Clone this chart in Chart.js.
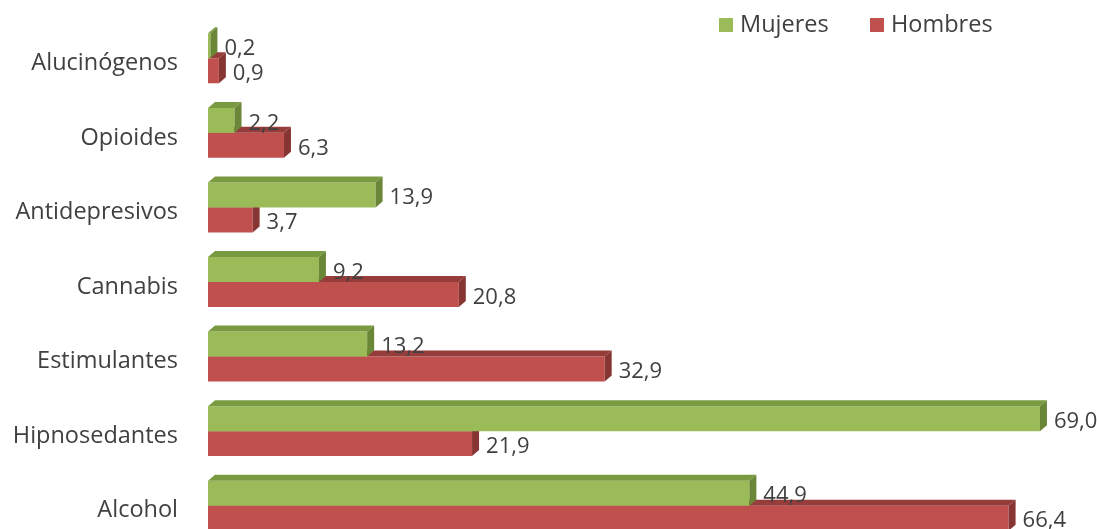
<!DOCTYPE html>
<html lang="es">
<head>
<meta charset="UTF-8">
<title>Mujeres y Hombres por sustancia</title>
<style>
  html, body { margin: 0; padding: 0; background: #fff; overflow: hidden; }
  #wrap { position: relative; width: 1099px; height: 544px; }
</style>
</head>
<body>
<div id="wrap"><canvas id="drugChart"></canvas></div>

<script src="https://cdn.jsdelivr.net/npm/chart.js"></script>
<script>
const categorias = ['Alucinógenos', 'Opioides', 'Antidepresivos', 'Cannabis', 'Estimulantes', 'Hipnosedantes', 'Alcohol'];
const mujeres = [0.2, 2.2, 13.9, 9.2, 13.2, 69.0, 44.9];
const hombres = [0.9, 6.3, 3.7, 20.8, 32.9, 21.9, 66.4];

const FONT = '"Open Sans", sans-serif';
const TEXT = '#404040';
const DX = 7, DY = 6; // fake 3D depth

const colores = {
  Mujeres: { front: '#9bbb59', top: '#7a9a42', side: '#6a8737' },
  Hombres: { front: '#c0504d', top: '#963d3b', side: '#873533' }
};

// top + side faces for each bar, drawn right after its dataset
const bars3d = {
  id: 'bars3d',
  afterDatasetDraw(chart, args) {
    const ctx = chart.ctx;
    const c = colores[chart.data.datasets[args.index].label];
    args.meta.data.forEach(bar => {
      const x0 = bar.base, x1 = bar.x;
      const top = bar.y - bar.height / 2, bottom = bar.y + bar.height / 2;
      ctx.save();
      ctx.fillStyle = c.top;
      ctx.beginPath();
      ctx.moveTo(x0, top);
      ctx.lineTo(x1, top);
      ctx.lineTo(x1 + DX, top - DY);
      ctx.lineTo(x0 + DX, top - DY);
      ctx.closePath();
      ctx.fill();
      ctx.fillStyle = c.side;
      ctx.beginPath();
      ctx.moveTo(x1, top);
      ctx.lineTo(x1 + DX, top - DY);
      ctx.lineTo(x1 + DX, bottom - DY);
      ctx.lineTo(x1, bottom);
      ctx.closePath();
      ctx.fill();
      ctx.restore();
    });
  },
  afterDatasetsDraw(chart) {
    const ctx = chart.ctx;
    ctx.save();
    ctx.fillStyle = TEXT;
    ctx.font = '22px ' + FONT;
    ctx.textBaseline = 'middle';
    ctx.textAlign = 'left';
    chart.data.datasets.forEach((ds, i) => {
      chart.getDatasetMeta(i).data.forEach((bar, j) => {
        const txt = ds.data[j].toFixed(1).replace('.', ',');
        ctx.fillText(txt, bar.x + DX + 7, bar.y + 3);
      });
    });
    ctx.restore();
  }
};

// legend in the top-right corner
const leyenda = {
  id: 'leyenda',
  afterDraw(chart) {
    const ctx = chart.ctx;
    const items = [
      { label: 'Mujeres', x: 719 },
      { label: 'Hombres', x: 870 }
    ];
    ctx.save();
    ctx.font = '23.5px ' + FONT;
    ctx.textBaseline = 'middle';
    items.forEach(it => {
      ctx.fillStyle = colores[it.label].front;
      ctx.fillRect(it.x, 18, 14, 14);
      ctx.fillStyle = TEXT;
      ctx.fillText(it.label, it.x + 21, 25);
    });
    ctx.restore();
  }
};

new Chart(document.getElementById('drugChart'), {
  type: 'bar',
  data: {
    labels: categorias,
    datasets: [
      { label: 'Mujeres', data: mujeres, backgroundColor: colores.Mujeres.front },
      { label: 'Hombres', data: hombres, backgroundColor: colores.Hombres.front }
    ]
  },
  options: {
    indexAxis: 'y',
    responsive: true,
    maintainAspectRatio: false,
    animation: false,
    categoryPercentage: 0.67,
    barPercentage: 1,
    layout: { padding: { top: 21, right: 47, bottom: 1, left: 0 } },
    plugins: {
      legend: { display: false },
      tooltip: { enabled: false }
    },
    scales: {
      x: { display: false, min: 0, max: 70 },
      y: {
        grid: { display: false, drawTicks: false },
        border: { display: false },
        ticks: { color: TEXT, font: { family: FONT, size: 23.5 }, padding: 30, labelOffset: 5 },
        afterFit(scale) {
          scale.width = 208;
          scale.paddingTop = 0;
          scale.paddingBottom = 0;
        }
      }
    }
  },
  plugins: [bars3d, leyenda]
});
</script>
</body>
</html>
